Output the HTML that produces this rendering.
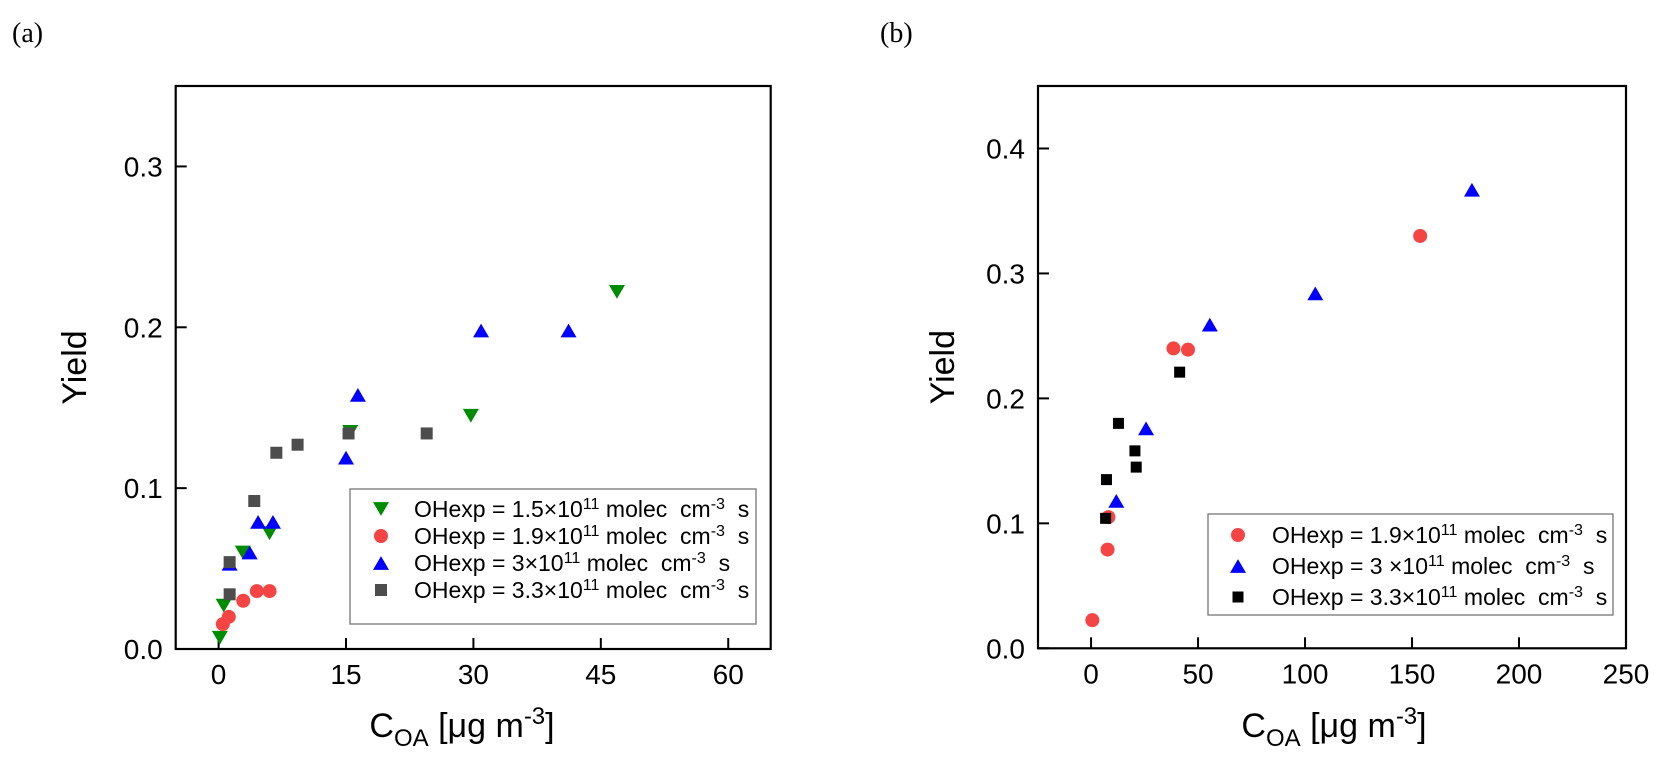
<!DOCTYPE html>
<html><head><meta charset="utf-8"><style>
html,body{margin:0;padding:0;background:#fff;}
svg{display:block;font-family:"Liberation Sans",Arial,sans-serif;}
</style></head><body>
<svg id="chart" width="1664" height="763" xmlns="http://www.w3.org/2000/svg">
<text x="12" y="42" font-family="Liberation Serif,serif" font-size="28">(a)</text>
<text x="880" y="42" font-family="Liberation Serif,serif" font-size="28">(b)</text>
<g id="pa"></g>
<g id="pb"></g>
</svg>
<script>
// Panel (a) data
const aXTicks = [0, 15, 30, 45, 60];
const aYTicks = [0.0, 0.1, 0.2, 0.3];
const aYTickLabels = ["0.0", "0.1", "0.2", "0.3"];
const aGreenX = [46.9, 29.7, 15.5, 6.0, 2.85, 0.6, 0.15];
const aGreenY = [0.222, 0.145, 0.135, 0.072, 0.060, 0.027, 0.007];
const aRedX = [0.5, 1.2, 2.9, 4.5, 6.0];
const aRedY = [0.0155, 0.020, 0.030, 0.036, 0.036];
const aBlueX = [30.9, 41.2, 16.4, 15.0, 4.65, 6.4, 3.66, 1.3];
const aBlueY = [0.198, 0.198, 0.158, 0.119, 0.079, 0.079, 0.060, 0.053];
const aGreyX = [24.5, 9.3, 6.8, 15.3, 4.2, 1.3, 1.3];
const aGreyY = [0.134, 0.127, 0.122, 0.134, 0.092, 0.054, 0.034];
// Panel (b) data
const bXTicks = [0, 50, 100, 150, 200, 250];
const bYTicks = [0.0, 0.1, 0.2, 0.3, 0.4];
const bYTickLabels = ["0.0", "0.1", "0.2", "0.3", "0.4"];
const bRedX = [0.6, 7.7, 8.1, 38.5, 45.3, 153.8];
const bRedY = [0.0225, 0.079, 0.105, 0.240, 0.239, 0.330];
const bBlueX = [11.8, 25.7, 55.5, 104.8, 178];
const bBlueY = [0.118, 0.176, 0.259, 0.284, 0.367];
const bBlackX = [6.8, 7.2, 12.8, 20.5, 21.1, 41.4];
const bBlackY = [0.104, 0.135, 0.180, 0.158, 0.145, 0.221];

const NS = "http://www.w3.org/2000/svg";
function mk(parent, tag, attrs, text) {
  const e = document.createElementNS(NS, tag);
  for (const k in attrs) e.setAttribute(k, attrs[k]);
  if (text !== undefined) e.textContent = text;
  parent.appendChild(e);
  return e;
}
function marker(g, type, cx, cy, color, s) {
  let e;
  if (type === 'circle') e = mk(g, 'circle', {cx: cx, cy: cy, r: s / 2, fill: color});
  else if (type === 'square') e = mk(g, 'rect', {x: cx - s / 2, y: cy - s / 2, width: s, height: s, fill: color});
  else if (type === 'up') e = mk(g, 'polygon', {points: `${cx - s/2},${cy + s*0.43} ${cx + s/2},${cy + s*0.43} ${cx},${cy - s*0.43}`, fill: color});
  else e = mk(g, 'polygon', {points: `${cx - s/2},${cy - s*0.43} ${cx + s/2},${cy - s*0.43} ${cx},${cy + s*0.43}`, fill: color});
  return e;
}
function legendText(g, x, y, pre, post, fs) {
  const t = mk(g, 'text', {x: x, y: y, 'font-size': fs});
  
  
  mk(t, 'tspan', {}, pre + '\u00d710');
  mk(t, 'tspan', {dy: -8, 'font-size': fs * 0.7}, '11');
  mk(t, 'tspan', {dy: 8}, ' molec\u00a0 cm');
  mk(t, 'tspan', {dy: -8, 'font-size': fs * 0.7}, '-3');
  mk(t, 'tspan', {dy: 8}, post);
}
function panel(g, o) {
  const X = v => o.x0 + (v - o.xmin) / (o.xmax - o.xmin) * (o.x1 - o.x0);
  const Y = v => o.y1 - (v - o.ymin) / (o.ymax - o.ymin) * (o.y1 - o.y0);
  let r = mk(g, 'rect', {x: o.x0, y: o.y0, width: o.x1 - o.x0, height: o.y1 - o.y0, fill: 'none', stroke: '#000', 'stroke-width': 2.2});
  
  
  o.xt.forEach(v => {
    mk(g, 'line', {x1: X(v), x2: X(v), y1: o.y1, y2: o.y1 - 11, stroke: '#000', 'stroke-width': 2});
    const t = mk(g, 'text', {x: X(v), y: o.y1 + 35, 'font-size': 28, 'text-anchor': 'middle'}, String(v));
    
    
  });
  o.yt.forEach((v, i) => {
    mk(g, 'line', {x1: o.x0, x2: o.x0 + 11, y1: Y(v), y2: Y(v), stroke: '#000', 'stroke-width': 2});
    const t = mk(g, 'text', {x: o.x0 - 13, y: Y(v) + 10, 'font-size': 28, 'text-anchor': 'end'}, o.ytl[i]);
    
    
  });
  const yt = mk(g, 'text', {x: 0, y: 0, 'font-size': 34, 'text-anchor': 'middle', transform: `translate(${o.yTitleX},${(o.y0 + o.y1) / 2}) rotate(-90)`}, 'Yield');
  
  
  const xt = mk(g, 'text', {x: o.xTitleX, y: 737, 'font-size': 34, 'text-anchor': 'middle'});
  
  
  mk(xt, 'tspan', {}, 'C');
  mk(xt, 'tspan', {dy: 9, 'font-size': 24}, 'OA');
  mk(xt, 'tspan', {dy: -9}, ' [\u03bcg m');
  mk(xt, 'tspan', {dy: -13, 'font-size': 24}, '-3');
  mk(xt, 'tspan', {dy: 13}, ']');
  o.series.forEach(s => {
    const sg = mk(g, 'g', {});
    
    
    s.xs.forEach((v, i) => {
      const m = marker(sg, s.type, X(v), Y(s.ys[i]), s.color, s.size);
      
      
    });
  });
  const lg = mk(g, 'g', {});
  
  
  mk(lg, 'rect', {x: o.lg.x, y: o.lg.y, width: o.lg.w, height: o.lg.h, fill: '#fff', stroke: '#777', 'stroke-width': 1.3});
  o.series.forEach((s, i) => {
    const cy = o.lg.rowY[i];
    const m = marker(lg, s.type, o.lg.mx, cy, s.color, s.size);
    
    
    legendText(lg, o.lg.tx, cy + 8, s.pre, s.post, 23);
  });
}
panel(document.getElementById('pa'), {
  x0: 175.7, x1: 770.7, y0: 86, y1: 649, xmin: -5.05, xmax: 65, ymin: 0, ymax: 0.35,
  xt: aXTicks, yt: aYTicks, ytl: aYTickLabels, yTitleX: 86, xTitleX: 462,
  series: [
    {name: 'series-1p5e11', type: 'down', color: '#008c00', size: 16, xs: aGreenX, ys: aGreenY, pre: 'OHexp = 1.5', post: '\u00a0 s'},
    {name: 'series-1p9e11', type: 'circle', color: '#f44444', size: 14, xs: aRedX, ys: aRedY, pre: 'OHexp = 1.9', post: '\u00a0 s'},
    {name: 'series-3e11', type: 'up', color: '#0000ff', size: 16, xs: aBlueX, ys: aBlueY, pre: 'OHexp = 3', post: '\u00a0 s'},
    {name: 'series-3p3e11', type: 'square', color: '#4d4d4d', size: 12, xs: aGreyX, ys: aGreyY, pre: 'OHexp = 3.3', post: '\u00a0 s'}
  ],
  lg: {x: 350, y: 489, w: 406, h: 135, mx: 381, tx: 414, rowY: [509, 536, 563, 590]}
});
panel(document.getElementById('pb'), {
  x0: 1038, x1: 1626, y0: 86, y1: 648.3, xmin: -24.8, xmax: 250, ymin: 0, ymax: 0.45,
  xt: bXTicks, yt: bYTicks, ytl: bYTickLabels, yTitleX: 954, xTitleX: 1334,
  series: [
    {name: 'series-1p9e11', type: 'circle', color: '#f44444', size: 14, xs: bRedX, ys: bRedY, pre: 'OHexp = 1.9', post: '\u00a0 s'},
    {name: 'series-3e11', type: 'up', color: '#0000ff', size: 16, xs: bBlueX, ys: bBlueY, pre: 'OHexp = 3 ', post: '\u00a0 s'},
    {name: 'series-3p3e11', type: 'square', color: '#000000', size: 11, xs: bBlackX, ys: bBlackY, pre: 'OHexp = 3.3', post: '\u00a0 s'}
  ],
  lg: {x: 1208, y: 514, w: 405, h: 101, mx: 1238, tx: 1272, rowY: [535, 566, 597]}
});
</script>
</body></html>
